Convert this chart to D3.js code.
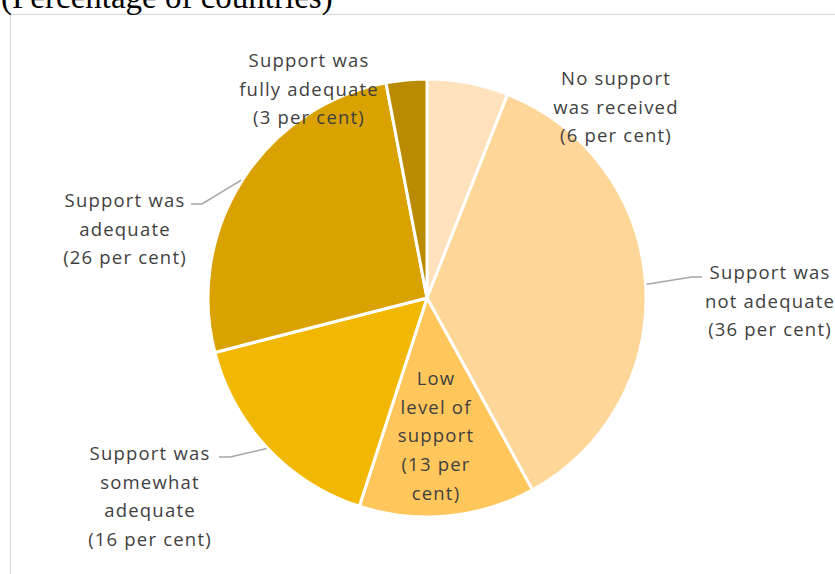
<!DOCTYPE html>
<html>
<head>
<meta charset="utf-8">
<script src="https://cdn.jsdelivr.net/npm/d3@7"></script>
<style>
  html, body { margin: 0; padding: 0; background: #fff; overflow: hidden; }
  svg { display: block; }
</style>
</head>
<body>
<svg id="chart" width="835" height="574"></svg>
<script>
// Share of countries by assessment of the support received (per cent)
const categories = [
  "No support was received",
  "Support was not adequate",
  "Low level of support",
  "Support was somewhat adequate",
  "Support was adequate",
  "Support was fully adequate"
];
const values = [6, 36, 13, 16, 26, 3];
const colors = ["#FFE1BB", "#FED698", "#FFC75B", "#F2B700", "#D9A200", "#BA8A00"];

// Label text, line by line
const labelLines = [
  ["No support", "was received", "(6 per cent)"],
  ["Support was", "not adequate", "(36 per cent)"],
  ["Low", "level of", "support", "(13 per", "cent)"],
  ["Support was", "somewhat", "adequate", "(16 per cent)"],
  ["Support was", "adequate", "(26 per cent)"],
  ["Support was", "fully adequate", "(3 per cent)"]
];

// Label placement relative to the pie centre; leader: null = no leader line
const labelLayout = [
  { dx: 189, dy: -213, leader: null },
  { dx: 343, dy: -19, leader: { side: "left", ex: 265, ey: -21 } },
  { dx: 9, dy: 87, leader: null },
  { dx: -277, dy: 162, leader: { side: "right", ex: -197, ey: 159 } },
  { dx: -302, dy: -91, leader: { side: "right", ex: -225, ey: -94 } },
  { dx: -118, dy: -231, leader: null }
];

const svg = d3.select("#chart");
const W = 835, H = 574;
const cx = 427, cy = 298, R = 219;
const lineH = 28.7;

// Chart frame
svg.append("rect")
  .attr("x", 10.5).attr("y", 14.5)
  .attr("width", W + 20).attr("height", H + 20)
  .attr("fill", "none").attr("stroke", "#D9D9D9").attr("stroke-width", 1.2);

// Partly visible heading above the frame
svg.append("text")
  .attr("x", 1).attr("y", 8)
  .attr("font-family", "'Liberation Serif', 'Times New Roman', serif")
  .attr("font-size", 33)
  .attr("fill", "#000")
  .text("(Percentage of countries)");

const pie = d3.pie().sort(null).value(d => d)(values);
const arc = d3.arc().innerRadius(0).outerRadius(R);

const g = svg.append("g").attr("transform", `translate(${cx},${cy})`);

g.selectAll("path.slice")
  .data(pie)
  .join("path")
  .attr("class", "slice")
  .attr("d", arc)
  .attr("fill", (d, i) => colors[i])
  .attr("stroke", "#fff")
  .attr("stroke-width", 3)
  .attr("stroke-linejoin", "round");

// Leader lines from the slice edge at its mid-angle to the label
pie.forEach((d, i) => {
  const L = labelLayout[i].leader;
  if (!L) return;
  const a = (d.startAngle + d.endAngle) / 2;
  const px = Math.sin(a) * (R + 1), py = -Math.cos(a) * (R + 1);
  const tailX = L.side === "left" ? L.ex + 10 : L.ex - 11;
  g.append("polyline")
    .attr("points", [[px, py], [L.ex, L.ey], [tailX, L.ey]].map(p => p.join(",")).join(" "))
    .attr("fill", "none")
    .attr("stroke", "#A6A6A6")
    .attr("stroke-width", 1.5);
});

// Data labels
pie.forEach((d, i) => {
  const lay = labelLayout[i];
  const t = g.append("text")
    .attr("text-anchor", "middle")
    .attr("font-family", "'Open Sans', 'Noto Sans', sans-serif")
    .attr("font-size", 18.5)
    .attr("letter-spacing", 1.2)
    .attr("fill", "#3F3F3F");
  labelLines[i].forEach((ln, k) => {
    t.append("tspan")
      .attr("x", lay.dx)
      .attr("y", lay.dy + k * lineH)
      .text(ln);
  });
});
</script>
</body>
</html>
